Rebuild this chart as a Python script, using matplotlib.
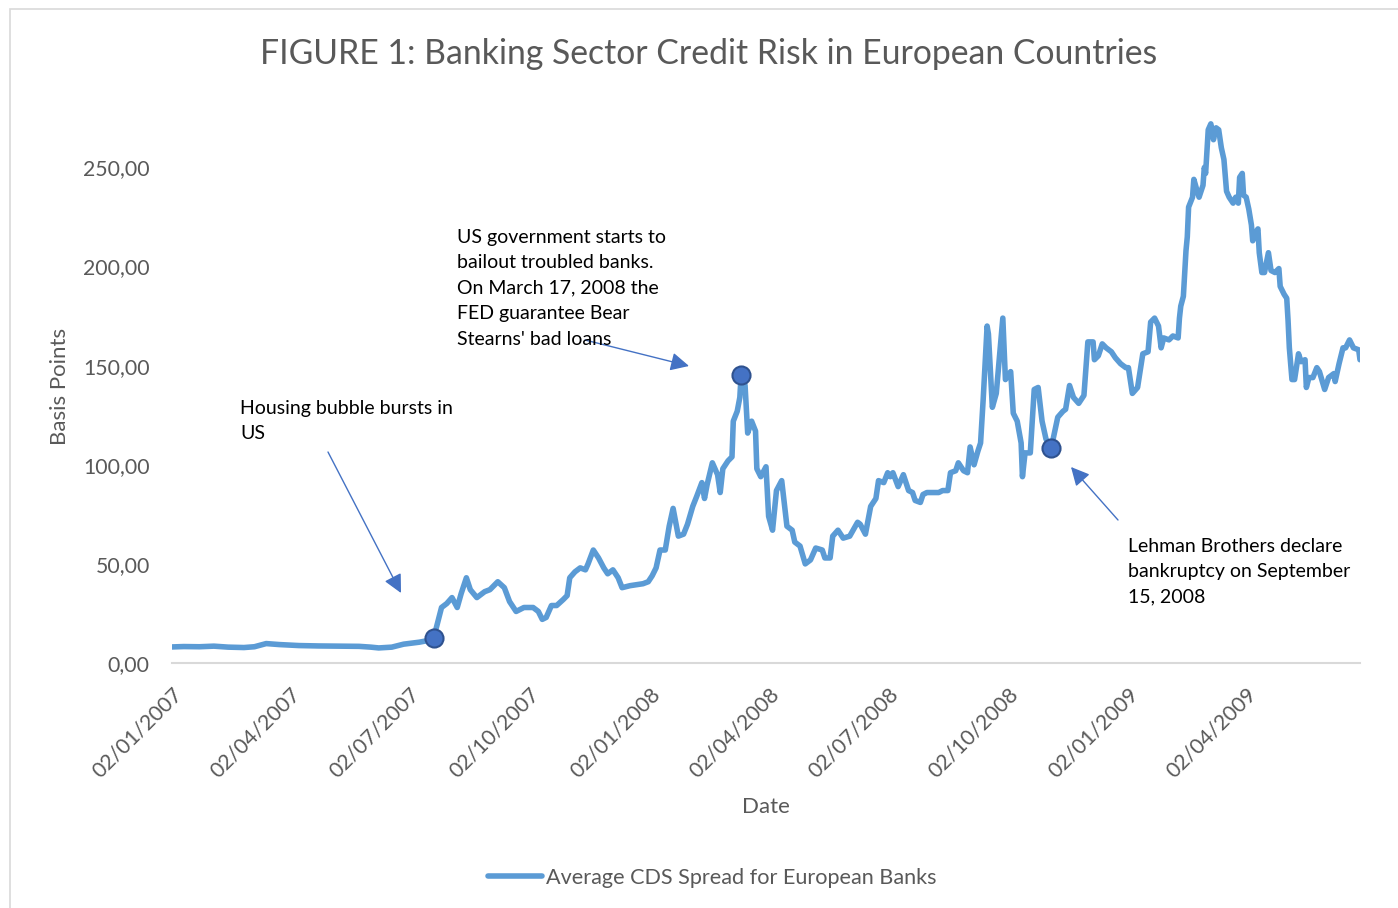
import matplotlib
matplotlib.use("Agg")
import matplotlib.pyplot as plt
import matplotlib.dates as mdates
import matplotlib.patches as mpatches
import numpy as np
import pandas as pd

# Average CDS spread for European banks (basis points)
dates = [
    "2007-01-02", "2007-01-11", "2007-01-23", "2007-02-03", "2007-02-14", "2007-02-26",
    "2007-03-06", "2007-03-15", "2007-03-25", "2007-04-09", "2007-04-24", "2007-05-10",
    "2007-05-25", "2007-06-03", "2007-06-09", "2007-06-19", "2007-06-28", "2007-07-10",
    "2007-07-18", "2007-07-21", "2007-07-27", "2007-07-31", "2007-08-04", "2007-08-08",
    "2007-08-11", "2007-08-15", "2007-08-18", "2007-08-23", "2007-08-29", "2007-09-02",
    "2007-09-08", "2007-09-13", "2007-09-17", "2007-09-22", "2007-09-28", "2007-10-05",
    "2007-10-09", "2007-10-12", "2007-10-15", "2007-10-19", "2007-10-23", "2007-10-28",
    "2007-10-31", "2007-11-02", "2007-11-06", "2007-11-10", "2007-11-14", "2007-11-16",
    "2007-11-20", "2007-11-24", "2007-11-28", "2007-12-01", "2007-12-05", "2007-12-09",
    "2007-12-12", "2007-12-18", "2007-12-28", "2008-01-01", "2008-01-04", "2008-01-07",
    "2008-01-10", "2008-01-14", "2008-01-17", "2008-01-20", "2008-01-24", "2008-01-28",
    "2008-01-31", "2008-02-04", "2008-02-07", "2008-02-11", "2008-02-13", "2008-02-15",
    "2008-02-19", "2008-02-23", "2008-02-25", "2008-02-27", "2008-03-02", "2008-03-05",
    "2008-03-06", "2008-03-09", "2008-03-11", "2008-03-12", "2008-03-15", "2008-03-17",
    "2008-03-20", "2008-03-23", "2008-03-24", "2008-03-27", "2008-03-31", "2008-04-02",
    "2008-04-05", "2008-04-08", "2008-04-12", "2008-04-16", "2008-04-20", "2008-04-22",
    "2008-04-26", "2008-04-30", "2008-05-04", "2008-05-08", "2008-05-13", "2008-05-15",
    "2008-05-19", "2008-05-21", "2008-05-25", "2008-05-29", "2008-06-03", "2008-06-09",
    "2008-06-11", "2008-06-15", "2008-06-19", "2008-06-23", "2008-06-25", "2008-06-29",
    "2008-07-02", "2008-07-04", "2008-07-06", "2008-07-10", "2008-07-14", "2008-07-18",
    "2008-07-21", "2008-07-23", "2008-07-27", "2008-07-29", "2008-08-01", "2008-08-06",
    "2008-08-10", "2008-08-13", "2008-08-17", "2008-08-19", "2008-08-23", "2008-08-25",
    "2008-08-29", "2008-09-01", "2008-09-03", "2008-09-06", "2008-09-09", "2008-09-11",
    "2008-09-13", "2008-09-16", "2008-09-17", "2008-09-20", "2008-09-23", "2008-09-28",
    "2008-09-30", "2008-10-04", "2008-10-06", "2008-10-09", "2008-10-12", "2008-10-13",
    "2008-10-15", "2008-10-19", "2008-10-22", "2008-10-25", "2008-10-28", "2008-10-31",
    "2008-11-04", "2008-11-09", "2008-11-13", "2008-11-15", "2008-11-18", "2008-11-21",
    "2008-11-25", "2008-11-29", "2008-12-02", "2008-12-06", "2008-12-07", "2008-12-10",
    "2008-12-13", "2008-12-16", "2008-12-20", "2008-12-23", "2008-12-27", "2008-12-31",
    "2009-01-02", "2009-01-05", "2009-01-09", "2009-01-13", "2009-01-17", "2009-01-19",
    "2009-01-22", "2009-01-25", "2009-01-27", "2009-01-29", "2009-02-02", "2009-02-05",
    "2009-02-09", "2009-02-10", "2009-02-11", "2009-02-13", "2009-02-15", "2009-02-16",
    "2009-02-17", "2009-02-20", "2009-02-21", "2009-02-24", "2009-02-25", "2009-02-28",
    "2009-03-01", "2009-03-02", "2009-03-04", "2009-03-06", "2009-03-08", "2009-03-10",
    "2009-03-12", "2009-03-14", "2009-03-16", "2009-03-18", "2009-03-20", "2009-03-23",
    "2009-03-25", "2009-03-27", "2009-03-28", "2009-03-30", "2009-03-31", "2009-04-02",
    "2009-04-04", "2009-04-06", "2009-04-07", "2009-04-10", "2009-04-11", "2009-04-12",
    "2009-04-14", "2009-04-16", "2009-04-19", "2009-04-21", "2009-04-24", "2009-04-27",
    "2009-04-28", "2009-05-01", "2009-05-03", "2009-05-04", "2009-05-05", "2009-05-07",
    "2009-05-09", "2009-05-12", "2009-05-14", "2009-05-17", "2009-05-18", "2009-05-20",
    "2009-05-23", "2009-05-26", "2009-05-28", "2009-06-01", "2009-06-04", "2009-06-08",
    "2009-06-09", "2009-06-12", "2009-06-15", "2009-06-17", "2009-06-20", "2009-06-23",
    "2009-06-27", "2009-06-28",
]
cds_spread = [
    8.1, 8.3, 8.2, 8.5, 8.0, 7.8,
    8.2, 9.8, 9.3, 8.8, 8.6, 8.5,
    8.4, 8.0, 7.6, 8.0, 9.5, 10.5,
    11.5, 12.6, 28, 30, 33, 28,
    35, 43, 37, 33, 36, 37,
    41, 38, 31, 26, 28, 28,
    26, 22, 23, 29, 29, 32,
    34, 43, 46, 48, 47, 50,
    57, 53, 48, 45, 47, 43,
    38, 39, 40, 41, 44, 48,
    57, 57, 69, 78, 64, 65,
    70, 79, 84, 91, 83, 90,
    101, 95, 86, 98, 102, 104,
    122, 127, 134, 145.5, 140, 116,
    122, 117, 98, 94, 99, 74,
    67, 87, 92, 69, 67, 61,
    59, 50, 52, 58, 57, 53,
    53, 64, 67, 63, 64, 71,
    70, 65, 79, 83, 92, 91,
    96, 94, 96, 89, 95, 87,
    86, 82, 81, 85, 86, 86,
    86, 87, 87, 96, 97, 101,
    97, 96, 109, 100, 107, 111,
    133, 170, 166, 129, 136, 174,
    143, 147, 126, 122, 111, 94,
    106, 106, 138, 139, 122, 113,
    108.5, 124, 127, 128, 140, 134,
    131, 135, 162, 162, 153, 155,
    161, 159, 157, 154, 151, 149,
    149, 136, 139, 156, 157, 172,
    174, 170, 159, 164, 163, 165,
    164, 174, 180, 185, 208, 215,
    230, 235, 244, 237, 235, 241,
    250, 247, 269, 272, 264, 270,
    269, 260, 254, 238, 235, 232,
    235, 232, 245, 247, 236, 235,
    229, 221, 213, 218, 219, 207,
    197, 197, 207, 198, 197, 199,
    190, 186, 184, 173, 159, 143,
    143, 156, 152, 153, 139, 144,
    144, 149, 147, 138, 144, 146,
    142, 151, 159, 159, 163, 159,
    158, 153,
]

# Highlighted events
event_dates = ["2007-07-21", "2008-03-12", "2008-11-04"]
event_texts = [
    "Housing bubble bursts in\nUS",
    "US government starts to\nbailout troubled banks.\nOn March 17, 2008 the\nFED guarantee Bear\nStearns' bad loans",
    "Lehman Brothers declare\nbankruptcy on September\n15, 2008",
]

tick_dates = ["2007-01-02", "2007-04-02", "2007-07-02", "2007-10-02", "2008-01-02",
              "2008-04-02", "2008-07-02", "2008-10-02", "2009-01-02", "2009-04-02"]
y_ticks = [0, 50, 100, 150, 200, 250]

series = pd.Series(cds_spread, index=pd.to_datetime(dates))
events = pd.to_datetime(event_dates)

W, H = 1398, 908
plt.rcParams["font.family"] = ["Lato", "DejaVu Sans"]
GREY = "#595959"
LINE = "#5B9BD5"
ARROW = "#4472C4"


def fx(px):
    return px / W


def fy(py):
    return 1 - py / H


fig = plt.figure(figsize=(W / 100, H / 100), dpi=100)
ax = fig.add_axes([fx(172), fy(663), fx(1360) - fx(172), fy(108) - fy(663)])

ax.plot(series.index, series.values, color=LINE, linewidth=4.0,
        solid_joinstyle="round", solid_capstyle="round",
        label="Average CDS Spread for European Banks", zorder=2)
ax.plot(events, series.loc[events].values, "o", markersize=13,
        markerfacecolor="#4472C4", markeredgecolor="#2F528F",
        markeredgewidth=1.5, zorder=3)

ax.set_xlim(series.index[0], series.index[-1])
ax.set_ylim(0, 280)
ax.set_yticks(y_ticks)
ax.set_yticklabels([f"{v:.2f}".replace(".", ",") for v in y_ticks])
ax.set_xticks(pd.to_datetime(tick_dates))
ax.xaxis.set_major_formatter(mdates.DateFormatter("%d/%m/%Y"))
for lbl in ax.get_xticklabels():
    lbl.set_rotation(45)
    lbl.set_ha("right")
    lbl.set_rotation_mode("anchor")

ax.tick_params(axis="both", length=0, labelsize=15.3, colors=GREY)
ax.tick_params(axis="x", pad=15)
ax.tick_params(axis="y", pad=16)
for side in ["top", "right", "left"]:
    ax.spines[side].set_visible(False)
ax.spines["bottom"].set_color("#D9D9D9")
ax.spines["bottom"].set_linewidth(1.5)
ax.set_facecolor("none")

fig.text(fx(60), fy(386), "Basis Points", rotation=90, ha="center", va="center",
         fontsize=16, color=GREY)
fig.text(fx(766), fy(807), "Date", ha="center", va="center", fontsize=16, color=GREY)
fig.text(fx(709), fy(54), "FIGURE 1: Banking Sector Credit Risk in European Countries",
         ha="center", va="center", fontsize=24.3, color=GREY)

# annotation boxes and arrows
text_pos = [(240, 400), (457, 229), (1128, 538)]
arrows = [((328, 452), (401, 593)), ((585, 340), (689, 366)), ((1118, 520), (1071, 467))]
for txt, (tx, ty), (tail, head) in zip(event_texts, text_pos, arrows):
    fig.text(fx(tx), fy(ty), txt, ha="left", va="top", fontsize=14,
             color="black", linespacing=1.6)
    ax.annotate("", xy=(fx(head[0]), fy(head[1])), xycoords="figure fraction",
                xytext=(fx(tail[0]), fy(tail[1])), textcoords="figure fraction",
                arrowprops=dict(arrowstyle="-|>", color=ARROW, lw=1.0,
                                mutation_scale=28, shrinkA=0, shrinkB=0))

fig.legend(loc="center", bbox_to_anchor=(fx(712), fy(878)), frameon=False,
           fontsize=15.6, handlelength=2.5, handletextpad=0.2, labelcolor=GREY)

# chart area border
fig.add_artist(mpatches.Rectangle((fx(10), fy(H + 40)), 2, fy(9) - fy(H + 40),
                                  transform=fig.transFigure, fill=False,
                                  edgecolor="#D9D9D9", linewidth=1.2))

fig.savefig("out.png", dpi=100)
plt.close(fig)
